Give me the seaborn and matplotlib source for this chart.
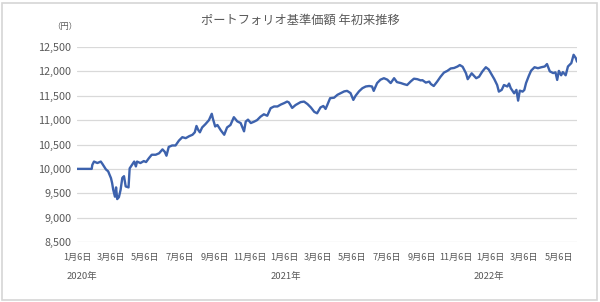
import matplotlib
matplotlib.use("Agg")
import matplotlib.pyplot as plt
import matplotlib.dates as mdates
import matplotlib.ticker as mticker
import matplotlib.transforms as mtrans
from matplotlib.patches import Rectangle
import pandas as pd
import seaborn as sns

# ---- data ----
dates = [
    "2020-01-06", "2020-02-01", "2020-02-02", "2020-02-05", "2020-02-11", "2020-02-17", "2020-02-20",
    "2020-02-26", "2020-03-01", "2020-03-06", "2020-03-08", "2020-03-10", "2020-03-13", "2020-03-15",
    "2020-03-17", "2020-03-20", "2020-03-23", "2020-03-26", "2020-03-29", "2020-04-01", "2020-04-06",
    "2020-04-08", "2020-04-13", "2020-04-16", "2020-04-19", "2020-04-21", "2020-04-27", "2020-05-03",
    "2020-05-07", "2020-05-12", "2020-05-17", "2020-05-24", "2020-05-30", "2020-06-05", "2020-06-09",
    "2020-06-12", "2020-06-16", "2020-06-22", "2020-06-28", "2020-07-04", "2020-07-10", "2020-07-16",
    "2020-07-22", "2020-07-28", "2020-08-01", "2020-08-04", "2020-08-07", "2020-08-10", "2020-08-14",
    "2020-08-20", "2020-08-26", "2020-08-31", "2020-09-02", "2020-09-06", "2020-09-10", "2020-09-16",
    "2020-09-22", "2020-09-27", "2020-10-03", "2020-10-09", "2020-10-15", "2020-10-21", "2020-10-27",
    "2020-10-30", "2020-11-03", "2020-11-08", "2020-11-14", "2020-11-19", "2020-11-25", "2020-12-01",
    "2020-12-07", "2020-12-13", "2020-12-19", "2020-12-25", "2020-12-31", "2021-01-06", "2021-01-11",
    "2021-01-14", "2021-01-17", "2021-01-20", "2021-01-26", "2021-02-04", "2021-02-10", "2021-02-16",
    "2021-02-22", "2021-02-28", "2021-03-05", "2021-03-11", "2021-03-16", "2021-03-20", "2021-03-23",
    "2021-03-28", "2021-04-04", "2021-04-10", "2021-04-16", "2021-04-22", "2021-04-27", "2021-05-03",
    "2021-05-08", "2021-05-12", "2021-05-18", "2021-05-24", "2021-05-30", "2021-06-05", "2021-06-10",
    "2021-06-13", "2021-06-19", "2021-06-25", "2021-07-01", "2021-07-07", "2021-07-13", "2021-07-19",
    "2021-07-24", "2021-07-31", "2021-08-05", "2021-08-11", "2021-08-17", "2021-08-23", "2021-08-29",
    "2021-09-04", "2021-09-07", "2021-09-13", "2021-09-19", "2021-09-22", "2021-09-27", "2021-10-03",
    "2021-10-09", "2021-10-15", "2021-10-21", "2021-10-27", "2021-11-02", "2021-11-08", "2021-11-12",
    "2021-11-17", "2021-11-23", "2021-11-26", "2021-11-29", "2021-12-03", "2021-12-07", "2021-12-11",
    "2021-12-16", "2021-12-22", "2021-12-28", "2022-01-02", "2022-01-06", "2022-01-12", "2022-01-17",
    "2022-01-20", "2022-01-25", "2022-01-29", "2022-02-04", "2022-02-07", "2022-02-10", "2022-02-16",
    "2022-02-20", "2022-02-23", "2022-02-26", "2022-03-03", "2022-03-06", "2022-03-09", "2022-03-14",
    "2022-03-18", "2022-03-24", "2022-03-30", "2022-04-05", "2022-04-11", "2022-04-15", "2022-04-20",
    "2022-04-26", "2022-04-30", "2022-05-03", "2022-05-06", "2022-05-10", "2022-05-13", "2022-05-18",
    "2022-05-22", "2022-05-28", "2022-06-01", "2022-06-05", "2022-06-07",
]
nav = [
    10000, 10000, 10080, 10150, 10120, 10150, 10100,
    9990, 9950, 9810, 9710, 9570, 9430, 9620,
    9380, 9420, 9570, 9815, 9850, 9640, 9620,
    10010, 10100, 10150, 10050, 10150, 10120, 10160,
    10140, 10220, 10290, 10290, 10320, 10400, 10350,
    10270, 10450, 10480, 10480, 10580, 10650, 10630,
    10670, 10700, 10750, 10880, 10800, 10750, 10850,
    10920, 11000, 11130, 11030, 10870, 10900, 10790,
    10700, 10850, 10900, 11060, 10975, 10940, 10770,
    10970, 11010, 10940, 10970, 11000, 11070, 11120,
    11090, 11245, 11280, 11280, 11320, 11350, 11380,
    11365, 11310, 11250, 11310, 11370, 11380, 11330,
    11260, 11170, 11140, 11260, 11290, 11230, 11310,
    11450, 11460, 11520, 11555, 11590, 11600, 11555,
    11415, 11500, 11590, 11655, 11690, 11700, 11690,
    11600, 11760, 11830, 11860, 11830, 11760, 11860,
    11780, 11760, 11740, 11720, 11790, 11850, 11840,
    11815, 11820, 11770, 11790, 11740, 11700, 11790,
    11890, 11975, 12010, 12060, 12070, 12100, 12130,
    12095, 11960, 11840, 11890, 11960, 11910, 11860,
    11890, 12000, 12085, 12040, 11960, 11840, 11720,
    11585, 11620, 11720, 11690, 11750, 11655, 11550,
    11620, 11400, 11605, 11585, 11620, 11760, 11910,
    12015, 12085, 12065, 12085, 12100, 12150, 12000,
    11965, 11980, 11825, 12010, 11920, 11985, 11920,
    12100, 12170, 12340, 12270, 12200,
]
tick_dates = ["2020-01-06", "2020-03-06", "2020-05-06", "2020-07-06", "2020-09-06", "2020-11-06",
              "2021-01-06", "2021-03-06", "2021-05-06", "2021-07-06", "2021-09-06", "2021-11-06",
              "2022-01-06", "2022-03-06", "2022-05-06"]
tick_labels = ["1月6日", "3月6日", "5月6日", "7月6日", "9月6日", "11月6日",
               "1月6日", "3月6日", "5月6日", "7月6日", "9月6日", "11月6日",
               "1月6日", "3月6日", "5月6日"]
year_labels = ["2020年", "2021年", "2022年"]
year_label_dates = ["2020-01-15", "2021-01-09", "2022-01-03"]
y_ticks = [8500, 9000, 9500, 10000, 10500, 11000, 11500, 12000, 12500]
title = "ポートフォリオ基準価額 年初来推移"
unit = "（円）"

df = pd.DataFrame({"date": pd.to_datetime(dates), "nav": nav})

sns.set_theme(style="white")
plt.rcParams["font.family"] = ["Noto Sans CJK JP", "DejaVu Sans"]

TXT = "#595959"
GRID = "#d9d9d9"
LINE = "#3d62ad"

fig = plt.figure(figsize=(6.0, 3.02), dpi=100)
fig.patch.set_facecolor("white")
ax = fig.add_axes([77 / 600, 1 - 242 / 302, (577 - 77) / 600, (242 - 47) / 302])

sns.lineplot(data=df, x="date", y="nav", ax=ax, color=LINE, linewidth=1.7)

ax.set_xlim(pd.Timestamp("2020-01-06"), pd.Timestamp("2022-06-07"))
ax.set_ylim(8500, 12500)
ax.set_yticks(y_ticks)
ax.yaxis.set_major_formatter(mticker.StrMethodFormatter("{x:,.0f}"))
ax.set_xticks(pd.to_datetime(tick_dates))
ax.set_xticklabels(tick_labels)
ax.grid(axis="y", color=GRID, linewidth=0.9)
ax.set_axisbelow(True)
for s in ax.spines.values():
    s.set_visible(False)
ax.tick_params(axis="y", length=0, pad=4, labelsize=7.8, labelcolor=TXT)
ax.tick_params(axis="x", length=0, pad=8, labelsize=6.6, labelcolor=TXT)
ax.set_xlabel("")
ax.set_ylabel("")

trans = mtrans.blended_transform_factory(ax.transData, fig.transFigure)
for lab, d in zip(year_labels, year_label_dates):
    ax.text(mdates.date2num(pd.Timestamp(d)), 1 - 276 / 302, lab, transform=trans,
            ha="center", va="center", fontsize=6.8, color=TXT)

fig.text(300 / 600, 1 - 20 / 302, title, ha="center", va="center", fontsize=8.8, color=TXT)
fig.text(65 / 600, 1 - 26 / 302, unit, ha="center", va="center", fontsize=6.0, color=TXT)

fig.patches.append(Rectangle((2 / 600, 2 / 302), 595 / 600, 297 / 302, transform=fig.transFigure,
                             fill=False, edgecolor="#d6d6d6", linewidth=1.2))

fig.savefig("out.png", dpi=100, facecolor="white")
